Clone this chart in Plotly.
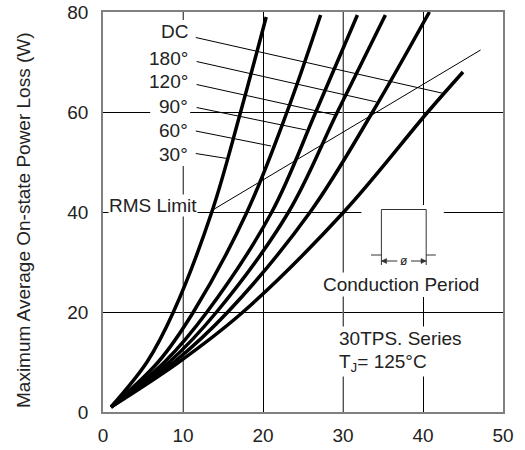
import plotly.graph_objects as go

# ---- data ----
curve_names = ["30°", "60°", "90°", "120°", "180°", "DC"]
current_30 = [1.0, 5.5, 8.8, 13.6, 17.2, 20.4]
power_30 = [1.0, 10, 20, 40, 60, 79.0]
current_60 = [1.0, 6.9, 11.3, 18.0, 23.0, 27.2]
power_60 = [1.0, 10, 20, 40, 60, 79.4]
current_90 = [1.0, 7.7, 13.0, 21.1, 26.6, 31.8]
power_90 = [1.0, 10, 20, 40, 60, 79.4]
current_120 = [1.0, 8.3, 14.2, 23.2, 29.3, 35.3]
power_120 = [1.0, 10, 20, 40, 60, 79.4]
current_180 = [1.0, 8.9, 15.6, 25.9, 33.7, 40.8]
power_180 = [1.0, 10, 20, 40, 60, 80.0]
current_dc = [1.0, 9.5, 17.5, 30.1, 40.6, 45.0]
power_dc = [1.0, 10, 20, 40, 60, 68.0]

# label positions and leader lines (start -> end on curve)
label_y = [51.5, 56.4, 61.1, 66.2, 70.7, 76.1]
leader_x0 = [11.6, 11.6, 11.7, 11.7, 11.7, 11.6]
leader_y0 = [51.7, 56.2, 60.9, 65.5, 70.1, 74.9]
leader_x1 = [15.5, 21.0, 25.4, 29.0, 34.2, 42.6]
leader_y1 = [50.7, 53.2, 56.4, 59.4, 62.0, 63.7]

rms_x = [13.6, 47.2]
rms_y = [40.3, 72.4]

x_ticks = [0, 10, 20, 30, 40, 50]
y_ticks = [0, 20, 40, 60, 80]

FONT = "Liberation Sans, Arial, sans-serif"
TXT = "#222222"

fig = go.Figure()

curves = [
    (current_30, power_30), (current_60, power_60), (current_90, power_90),
    (current_120, power_120), (current_180, power_180), (current_dc, power_dc),
]
for (cx, cy), name in zip(curves, curve_names):
    fig.add_trace(go.Scatter(x=cx, y=cy, mode="lines", name=name,
                             line=dict(color="black", width=3.5, shape="spline", smoothing=1.0),
                             showlegend=False, hoverinfo="skip"))

for x0, y0, x1, y1 in zip(leader_x0, leader_y0, leader_x1, leader_y1):
    fig.add_trace(go.Scatter(x=[x0, x1], y=[y0, y1], mode="lines",
                             line=dict(color="black", width=1), showlegend=False, hoverinfo="skip"))

fig.add_trace(go.Scatter(x=rms_x, y=rms_y, mode="lines",
                         line=dict(color="black", width=1), showlegend=False, hoverinfo="skip"))

shapes = []
# lighter grid lines at 10 and 30
for gx in [10, 30]:
    shapes.append(dict(type="line", xref="x", yref="y", x0=gx, x1=gx, y0=0, y1=80,
                       line=dict(color="#8a8a8a", width=1.2), layer="between"))
# white areas masking grid behind text/symbol
shapes.append(dict(type="rect", xref="x", yref="y", x0=5.9, x1=10.9, y0=49.2, y1=78.4,
                   fillcolor="white", line=dict(width=0), layer="between"))
shapes.append(dict(type="rect", xref="x", yref="y", x0=32.3, x1=42.6, y0=23.0, y1=41.4,
                   fillcolor="white", line=dict(width=0), layer="between"))
# conduction period pulse symbol
sym = "#333333"
shapes.append(dict(type="path", xref="x", yref="y",
                   path="M 34.8,29.4 L 34.8,40.5 L 40.4,40.5 L 40.4,29.4",
                   line=dict(color=sym, width=1)))
shapes.append(dict(type="line", xref="x", yref="y", x0=33.5, x1=34.8, y0=31.4, y1=31.4,
                   line=dict(color=sym, width=1)))
shapes.append(dict(type="line", xref="x", yref="y", x0=40.4, x1=41.6, y0=31.4, y1=31.4,
                   line=dict(color=sym, width=1)))
# dimension arrows
shapes.append(dict(type="line", xref="x", yref="y", x0=34.8, x1=36.8, y0=30.2, y1=30.2,
                   line=dict(color=sym, width=1)))
shapes.append(dict(type="line", xref="x", yref="y", x0=38.5, x1=40.4, y0=30.2, y1=30.2,
                   line=dict(color=sym, width=1)))
shapes.append(dict(type="path", xref="x", yref="y",
                   path="M 34.8,30.2 L 35.45,30.7 L 35.45,29.7 Z",
                   fillcolor=sym, line=dict(color=sym, width=0.5)))
shapes.append(dict(type="path", xref="x", yref="y",
                   path="M 40.4,30.2 L 39.75,30.7 L 39.75,29.7 Z",
                   fillcolor=sym, line=dict(color=sym, width=0.5)))

annotations = []
for name, ly in zip(curve_names, label_y):
    annotations.append(dict(x=10.8, y=ly, xref="x", yref="y", text=name, showarrow=False,
                            xanchor="right", yanchor="middle", bgcolor="white", borderpad=0,
                            font=dict(family=FONT, size=19, color=TXT)))
annotations.append(dict(x=11.9, y=41.4, xref="x", yref="y", text="RMS Limit", showarrow=False,
                        xanchor="right", yanchor="middle", bgcolor="white", borderpad=0,
                        font=dict(family=FONT, size=19, color=TXT)))
annotations.append(dict(x=37.2, y=25.6, xref="x", yref="y", text="Conduction Period", showarrow=False,
                        xanchor="center", yanchor="middle", bgcolor="white", borderpad=1,
                        font=dict(family=FONT, size=19, color=TXT)))
annotations.append(dict(x=29.3, y=14.8, xref="x", yref="y", text="30TPS. Series", showarrow=False,
                        xanchor="left", yanchor="middle", bgcolor="white", borderpad=1,
                        font=dict(family=FONT, size=19, color=TXT)))
annotations.append(dict(x=29.3, y=9.9, xref="x", yref="y", text="T<sub>J</sub>= 125°C", showarrow=False,
                        xanchor="left", yanchor="middle", bgcolor="white", borderpad=1,
                        font=dict(family=FONT, size=19, color=TXT)))
annotations.append(dict(x=37.6, y=30.3, xref="x", yref="y", text="ø", showarrow=False,
                        xanchor="center", yanchor="middle",
                        font=dict(family=FONT, size=12, color=TXT)))
annotations.append(dict(x=-0.2, y=0.48, xref="paper", yref="paper",
                        text="Maximum Average On-state Power Loss (W)", textangle=-90,
                        showarrow=False, xanchor="center", yanchor="middle",
                        font=dict(family=FONT, size=19, color=TXT)))

fig.update_layout(
    width=525, height=450,
    margin=dict(l=103, r=22, t=12, b=38),
    paper_bgcolor="white", plot_bgcolor="white",
    showlegend=False,
    shapes=shapes, annotations=annotations,
    xaxis=dict(range=[0, 50], tickvals=x_ticks, ticktext=[str(v) for v in x_ticks],
               showgrid=True, gridcolor="black", gridwidth=1, zeroline=False,
               showline=True, mirror=True, linecolor="#808080", linewidth=1.5,
               ticks="", ticklabelstandoff=5, automargin=False,
               tickfont=dict(family=FONT, size=19, color=TXT)),
    yaxis=dict(range=[0, 80], tickvals=y_ticks, ticktext=[str(v) for v in y_ticks],
               showgrid=True, gridcolor="black", gridwidth=1, zeroline=False,
               showline=True, mirror=True, linecolor="#808080", linewidth=1.5,
               ticks="", ticklabelstandoff=9, automargin=False,
               tickfont=dict(family=FONT, size=19, color=TXT)),
)

fig.write_html("out.html")
